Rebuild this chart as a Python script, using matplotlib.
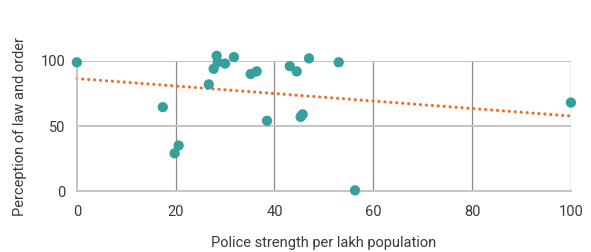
import matplotlib.pyplot as plt
import numpy as np

# police strength per lakh population vs perception of law and order
police_strength = [0, 17.4, 19.8, 20.6, 26.7, 27.7, 28.3, 28.5, 30.0, 31.8,
                   35.2, 36.4, 38.5, 43.1, 44.5, 45.3, 45.7, 47.0, 53.0, 56.3, 100]
perception = [99, 64.5, 29, 35, 82, 94, 104, 99, 98, 103,
              90, 92, 54, 96, 92, 57, 59, 102, 99, 0.5, 68]

# trend line
trend_intercept = 86.5
trend_slope = -0.288

x_ticks = [0, 20, 40, 60, 80, 100]
y_ticks = [0, 50, 100]

plt.rcParams['font.family'] = ['Roboto', 'DejaVu Sans']

fig = plt.figure(figsize=(5.91, 2.52), dpi=100)
ax = fig.add_axes([0.130, 0.242, 0.836, 0.516])

text_color = "#3a3a3a"

for xv in x_ticks[1:]:
    ax.axvline(xv, color="#8c8c8c", linewidth=0.9, zorder=1)
for yv in y_ticks[1:]:
    ax.axhline(yv, color="#c4c4c4", linewidth=1.4, zorder=1)

tx = np.linspace(0, 100, 2)
ax.plot(tx, trend_intercept + trend_slope * tx, color="#f26b21", linewidth=2.3,
        linestyle=(0, (0.01, 1.85)), dash_capstyle="round", zorder=2, clip_on=False)

ax.scatter(police_strength, perception, s=55, color="#35a09c", edgecolors="none",
           zorder=3, clip_on=False)

ax.set_xlim(0, 100)
ax.set_ylim(0, 100)
ax.set_xticks(x_ticks)
ax.set_yticks(y_ticks)
ax.tick_params(length=0, labelsize=10.5, colors=text_color, pad=8)
ax.tick_params(axis="x", pad=10)

for side in ["top", "right"]:
    ax.spines[side].set_visible(False)
for side in ["left", "bottom"]:
    ax.spines[side].set_color("#c4c4c4")
    ax.spines[side].set_linewidth(1.4)

ax.set_xlabel("Police strength per lakh population", fontsize=10.5,
              color=text_color, labelpad=12)
ax.set_ylabel("Perception of law and order", fontsize=10.5,
              color=text_color, labelpad=10)

fig.savefig("out.png", dpi=100)
